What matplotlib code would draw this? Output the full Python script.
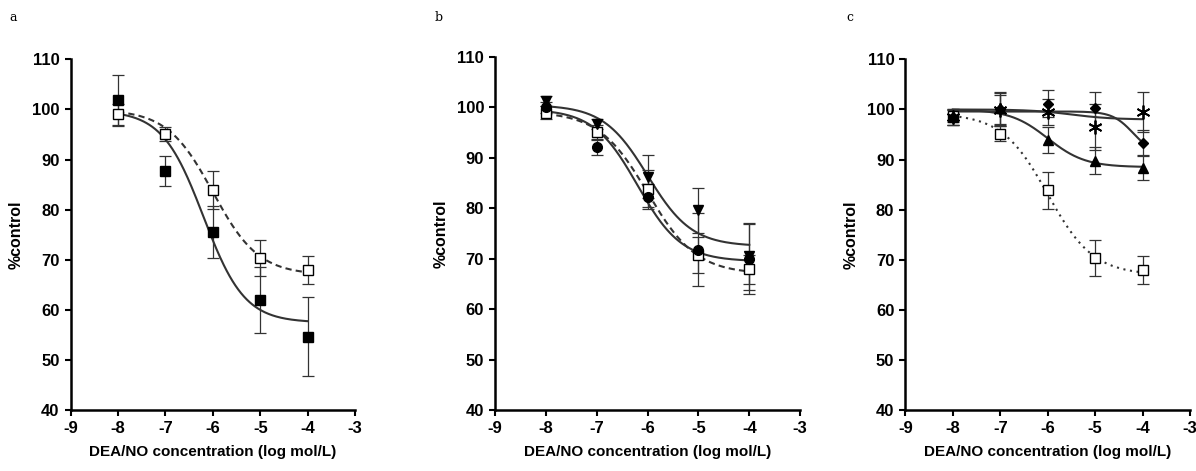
import numpy as np
import matplotlib
matplotlib.use('Agg')
import matplotlib.pyplot as plt

plt.rcParams['font.family'] = ['Liberation Sans Narrow', 'Liberation Sans', 'DejaVu Sans']
plt.rcParams['font.weight'] = 'bold'
plt.rcParams['axes.unicode_minus'] = False

doses = [-8, -7, -6, -5, -4]

# panel a
a_ctrl = [99.0, 95.2, 83.9, 70.3, 67.9]
a_ctrl_err = [2.0, 1.4, 3.8, 3.6, 2.8]
a_filled = [101.8, 87.7, 75.5, 62.0, 54.7]
a_filled_err = [5.1, 3.0, 5.2, 6.6, 7.9]

# panel b
b_ctrl = [99.0, 95.2, 83.9, 70.8, 67.9]
b_ctrl_err = [1.2, 1.4, 3.7, 3.6, 2.8]
b_tri = [101.3, 96.7, 86.3, 79.6, 70.5]
b_tri_err = [1.0, 1.0, 4.3, 4.5, 6.7]
b_circ = [100.0, 92.1, 82.3, 71.8, 70.0]
b_circ_err = [1.0, 1.5, 2.5, 7.2, 7.0]

# panel c
c_ctrl = [98.7, 95.2, 83.9, 70.3, 68.0]
c_ctrl_err = [1.2, 1.5, 3.7, 3.6, 2.8]
c_tri = [98.4, 100.3, 94.0, 89.8, 88.4]
c_tri_err = [1.5, 3.2, 2.6, 2.7, 2.5]
c_dia = [98.5, 100.0, 101.1, 100.2, 93.3]
c_dia_err = [1.5, 3.3, 2.7, 3.3, 2.6]
c_star = [98.5, 99.9, 99.5, 96.5, 99.5]
c_star_err = [1.5, 3.0, 2.5, 4.5, 3.9]

# fitted curve parameters (top, bottom, logEC50, hill)
fit_a_ctrl = (100.0, 67.0, -6.0, 0.9)
fit_a_filled = (99.8, 57.5, -6.2, 1.0)
fit_b_ctrl = (99.2, 67.0, -6.0, 0.9)
fit_b_tri = (100.5, 72.5, -6.0, 1.0)
fit_b_circ = (99.7, 69.5, -6.2, 1.0)
fit_c_ctrl = (99.2, 67.0, -6.0, 0.9)
fit_c_tri = (100.0, 88.5, -6.0, 1.1)
fit_c_dia = (99.6, 91.0, -4.2, 2.0)
fit_c_star = (100.0, 98.0, -5.5, 1.0)

xs = np.linspace(-8, -4, 200)


def curve(p):
    top, bot, ec, h = p
    return bot + (top - bot) / (1 + 10 ** ((xs - ec) * h))


def series(ax, y, err, fit, marker, face, ls, ms=6.5, mew=1.0):
    ax.plot(xs, curve(fit), color='#333333', lw=1.5, ls=ls, zorder=2)
    ax.errorbar(doses, y, yerr=err, fmt='none', ecolor='#333333', elinewidth=0.9,
                capsize=4, capthick=0.9, zorder=3)
    ax.plot(doses, y, ls='none', marker=marker, mfc=face, mec='black', mew=mew,
            ms=ms, zorder=4)


def style(ax):
    ax.set_xlim(-9, -3)
    ax.set_ylim(40, 110)
    ax.set_xticks(range(-9, -2))
    ax.set_yticks(range(40, 111, 10))
    for s in ['top', 'right']:
        ax.spines[s].set_visible(False)
    for s in ['left', 'bottom']:
        ax.spines[s].set_linewidth(1.8)
    ax.tick_params(width=1.5, length=4, labelsize=12, pad=4)
    for t in ax.get_xticklabels() + ax.get_yticklabels():
        t.set_fontweight('bold')
    ax.set_xlabel('DEA/NO concentration (log mol/L)', fontsize=11, fontweight='bold', labelpad=6)
    ax.set_ylabel('%control', fontsize=11.5, fontweight='bold', labelpad=6)


fig = plt.figure(figsize=(11.96, 4.71), dpi=100)
ax1 = fig.add_axes([0.059, 0.129, 0.238, 0.745])
ax2 = fig.add_axes([0.414, 0.129, 0.255, 0.750])
ax3 = fig.add_axes([0.757, 0.129, 0.238, 0.745])

series(ax1, a_ctrl, a_ctrl_err, fit_a_ctrl, 's', 'white', (0, (3, 2)))
series(ax1, a_filled, a_filled_err, fit_a_filled, 's', 'black', '-')

series(ax2, b_ctrl, b_ctrl_err, fit_b_ctrl, 's', 'white', (0, (3, 2)))
series(ax2, b_circ, b_circ_err, fit_b_circ, 'o', 'black', '-', 7)
series(ax2, b_tri, b_tri_err, fit_b_tri, 'v', 'black', '-', 7)

series(ax3, c_ctrl, c_ctrl_err, fit_c_ctrl, 's', 'white', (0, (1, 2.2)))
series(ax3, c_star, c_star_err, fit_c_star, (6, 2, 0), 'black', '-', 10, 1.3)
series(ax3, c_dia, c_dia_err, fit_c_dia, 'D', 'black', '-', 5.5)
series(ax3, c_tri, c_tri_err, fit_c_tri, '^', 'black', '-', 7)

style(ax1)
style(ax2)
style(ax3)

for x, lab in [(0.008, 'a'), (0.363, 'b'), (0.708, 'c')]:
    fig.text(x, 0.955, lab, family='DejaVu Serif', fontsize=9, fontweight='normal')

fig.savefig('out.png', dpi=100)
